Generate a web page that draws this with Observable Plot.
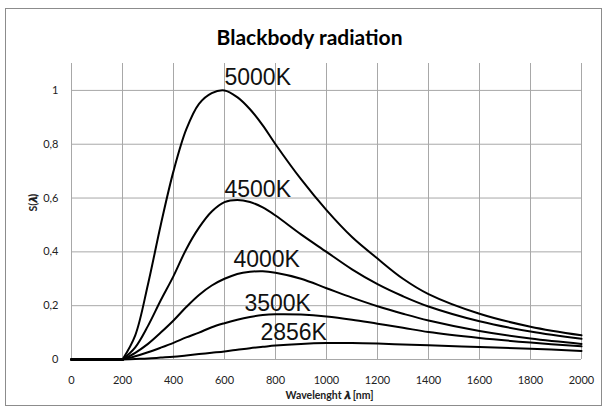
<!DOCTYPE html>
<html>
<head>
<meta charset="utf-8">
<script src="https://cdn.jsdelivr.net/npm/d3@7"></script>
<script src="https://cdn.jsdelivr.net/npm/@observablehq/plot@0.6"></script>
<style>
  html, body { margin: 0; padding: 0; background: #fff; }
  #wrap { position: relative; width: 606px; height: 414px; overflow: hidden; background: #fff; }
  #frame { position: absolute; left: 5px; top: 8px; width: 595px; height: 396px; border: 1px solid #8c8c8c; }
  #title { position: absolute; left: 0; top: 26px; width: 606px; padding-left: 13px; box-sizing: border-box;
           text-align: center; font: bold 21px/21px Lato, "Open Sans", sans-serif; color: #000; }
  #chart { position: absolute; left: 0; top: 50px; }
</style>
</head>
<body>
<div id="wrap">
  <div id="frame"></div>
  <div id="title">Blackbody radiation</div>
  <div id="chart"></div>
</div>
<script>
// Wavelengths (nm) at which the curves were read
const wavelengths = [0, 100, 200, 250, 300, 350, 400, 450, 500, 550, 600, 650, 700, 750, 800, 900, 1000, 1100, 1200, 1300, 1400, 1600, 1800, 2000];

// Relative spectral radiance S(λ)
const s5000 = [0, 0, 0, 0.09, 0.28, 0.50, 0.70, 0.855, 0.95, 0.99, 1.0, 0.975, 0.93, 0.87, 0.80, 0.67, 0.555, 0.455, 0.375, 0.30, 0.243, 0.17, 0.122, 0.09];
const s4500 = [0, 0, 0, 0.045, 0.125, 0.22, 0.31, 0.41, 0.49, 0.55, 0.585, 0.593, 0.585, 0.565, 0.535, 0.465, 0.40, 0.335, 0.28, 0.235, 0.197, 0.142, 0.104, 0.077];
const s4000 = [0, 0, 0, 0.025, 0.058, 0.10, 0.145, 0.195, 0.24, 0.275, 0.30, 0.318, 0.326, 0.328, 0.322, 0.30, 0.265, 0.23, 0.198, 0.17, 0.145, 0.106, 0.078, 0.058];
const s3500 = [0, 0, 0, 0.012, 0.027, 0.044, 0.062, 0.082, 0.10, 0.12, 0.135, 0.148, 0.158, 0.165, 0.168, 0.167, 0.16, 0.148, 0.133, 0.118, 0.102, 0.08, 0.063, 0.049];
const s2856 = [0, 0, 0, 0.002, 0.004, 0.007, 0.01, 0.015, 0.02, 0.025, 0.03, 0.036, 0.042, 0.047, 0.052, 0.058, 0.061, 0.061, 0.059, 0.056, 0.053, 0.046, 0.04, 0.032];

const seriesNames = ["5000K", "4500K", "4000K", "3500K", "2856K"];
const seriesValues = [s5000, s4500, s4000, s3500, s2856];

// Curve label anchors (wavelength, S)
const labelX = [600, 600, 635, 678, 741];
const labelY = [1.02, 0.604, 0.342, 0.181, 0.072];

const xTicks = [0, 200, 400, 600, 800, 1000, 1200, 1400, 1600, 1800, 2000];
const yTicks = [0, 0.2, 0.4, 0.6, 0.8, 1];

const rows = seriesNames.flatMap((name, k) =>
  wavelengths.map((w, i) => ({series: name, wl: w, s: seriesValues[k][i]})));
const labels = seriesNames.map((name, k) => ({text: name, x: labelX[k], y: labelY[k]}));

const gridColor = "#a8a8a8";
const fmtY = d => String(d).replace(".", ",");

const chart = Plot.plot({
  width: 606,
  height: 364,
  marginLeft: 71,
  marginRight: 25,
  marginTop: 13,
  marginBottom: 55,
  style: {fontFamily: "Lato, 'Open Sans', sans-serif", fontSize: "11px", color: "#222", background: "transparent"},
  x: {domain: [0, 2000]},
  y: {domain: [0, 1.1]},
  marks: [
    Plot.gridX(xTicks, {stroke: gridColor, strokeOpacity: 1, strokeWidth: 1}),
    Plot.gridY(yTicks, {stroke: gridColor, strokeOpacity: 1, strokeWidth: 1}),
    Plot.axisX(xTicks, {tickSize: 0, tickPadding: 17, label: null, tickFormat: d => String(d)}),
    Plot.axisY(yTicks, {tickSize: 0, tickPadding: 13, label: null, tickFormat: fmtY}),
    Plot.line(rows.filter(d => d.wl <= 200), {x: "wl", y: "s", z: "series", stroke: "#000", strokeWidth: 2.5}),
    Plot.line(rows.filter(d => d.wl >= 200), {x: "wl", y: "s", z: "series", curve: "catmull-rom", stroke: "#000", strokeWidth: 2}),
    Plot.text(labels, {x: "x", y: "y", text: "text", textAnchor: "start", lineAnchor: "bottom",
      fontSize: 23, fontFamily: "'Liberation Sans', Arial, sans-serif", fill: "#111"}),
    Plot.text(["Wavelenght 𝝀 [nm]"], {frameAnchor: "bottom", dy: 39, dx: 3, text: d => d,
      fontWeight: "bold", fontSize: 10.5, fill: "#222"}),
    Plot.text(["S(𝝀)"], {frameAnchor: "left", dx: -38, rotate: -90, text: d => d,
      fontWeight: "bold", fontSize: 10.5, fill: "#222"})
  ]
});
document.getElementById("chart").appendChild(chart);
</script>
</body>
</html>
